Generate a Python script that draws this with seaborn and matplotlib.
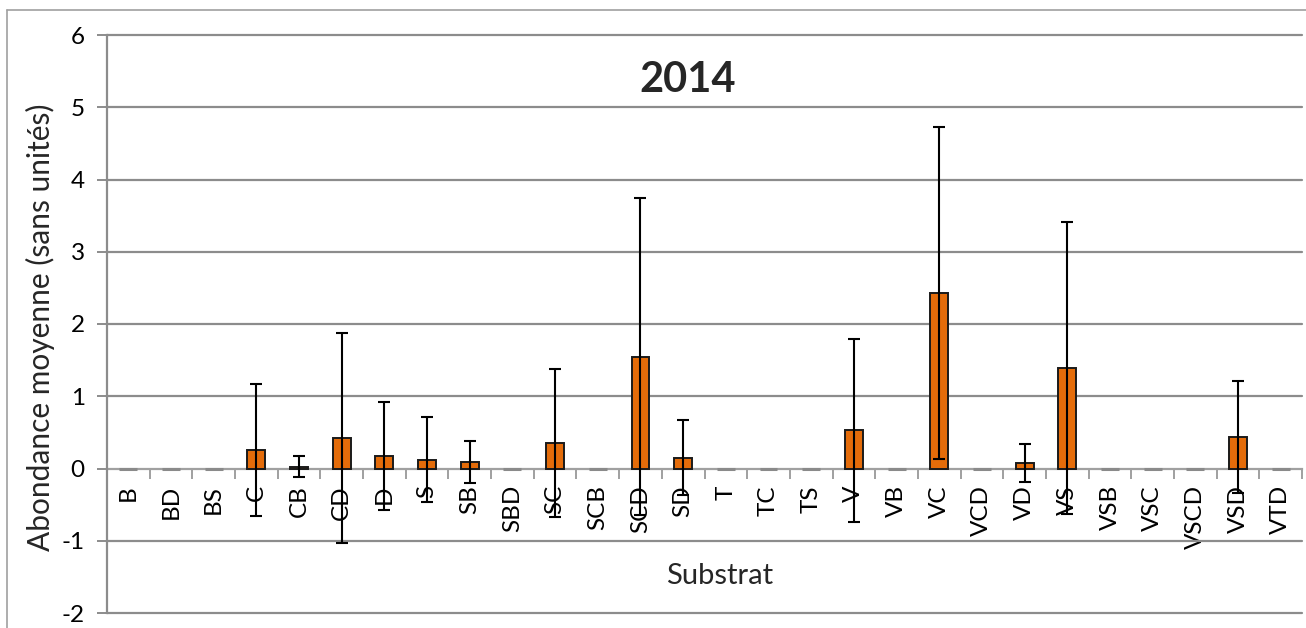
import matplotlib
matplotlib.use("Agg")
import matplotlib.pyplot as plt
from matplotlib.lines import Line2D
import seaborn as sns
import numpy as np
import pandas as pd

# Mean abundance per substrate type, with standard deviation
substrats = ["B", "BD", "BS", "C", "CB", "CD", "D", "S", "SB", "SBD", "SC", "SCB",
             "SCD", "SD", "T", "TC", "TS", "V", "VB", "VC", "VCD", "VD", "VS",
             "VSB", "VSC", "VSCD", "VSD", "VTD"]
moyennes = [0, 0, 0, 0.255, 0.025, 0.42, 0.17, 0.12, 0.085, 0, 0.355, 0,
            1.55, 0.15, 0, 0, 0, 0.53, 0, 2.43, 0, 0.077, 1.39,
            0, 0, 0, 0.435, 0]
ecarts = [0, 0, 0, 0.915, 0.145, 1.45, 0.75, 0.59, 0.29, 0, 1.025, 0,
          2.2, 0.52, 0, 0, 0, 1.265, 0, 2.3, 0, 0.258, 2.02,
          0, 0, 0, 0.78, 0]
y_ticks = [-2, -1, 0, 1, 2, 3, 4, 5, 6]
titre = "2014"

df = pd.DataFrame({"Substrat": substrats, "Moyenne": moyennes, "Ecart": ecarts})

sns.set_theme(style="white")
plt.rcParams["font.family"] = ["Lato", "DejaVu Sans"]

W, H = 1306, 628
fig = plt.figure(figsize=(W / 100, H / 100), dpi=100)
ax = fig.add_axes([107 / W, 1 - 613 / H, (1302 - 107) / W, (613 - 35) / H])

grid_col = "#8c8c8c"
orange = "#E46C0A"

sns.barplot(data=df, x="Substrat", y="Moyenne", order=substrats, color=orange,
            width=0.42, saturation=1, edgecolor="#1a1a1a", linewidth=1.4,
            errorbar=None, ax=ax, zorder=3)

# zero-height bars appear as a short grey dash on the axis
for patch, m in zip(ax.patches, moyennes):
    if m == 0:
        patch.set_edgecolor("#8a8a8a")
        patch.set_linewidth(2.2)
        patch.set_zorder(4)

xs = np.arange(len(substrats))
mask = np.array(ecarts) > 0
ax.errorbar(xs[mask], np.array(moyennes)[mask], yerr=np.array(ecarts)[mask],
            fmt="none", ecolor="black", elinewidth=1.5, capsize=4.3,
            capthick=1.5, zorder=5)

ax.set_ylim(-2, 6)
ax.set_xlim(-0.5, len(substrats) - 0.5)
ax.set_yticks(y_ticks)
ax.set_yticklabels([str(t) for t in y_ticks], fontsize=17.5)
for t in y_ticks:
    if t != 0:
        ax.axhline(t, color=grid_col, lw=1.6, zorder=1, clip_on=False)

for s in ["top", "right"]:
    ax.spines[s].set_visible(False)
ax.spines["left"].set_color(grid_col)
ax.spines["left"].set_linewidth(1.6)
ax.spines["bottom"].set_position(("data", 0))
ax.spines["bottom"].set_color("#a0a0a0")
ax.spines["bottom"].set_linewidth(1.6)
ax.spines["bottom"].set_zorder(2)

ax.tick_params(axis="y", direction="out", length=7, width=1.4, color=grid_col,
               pad=9, left=True, labelcolor="black")
ax.set_xticks(xs)
ax.set_xticklabels(substrats, rotation=90, fontsize=17.5, va="top", ha="center")
ax.tick_params(axis="x", which="major", length=0, pad=12, labelcolor="black")
ax.set_xticks(np.arange(len(substrats) + 1) - 0.5, minor=True)
ax.tick_params(axis="x", which="minor", direction="out", length=7, width=1.4,
               color="#a0a0a0", bottom=True)

ax.set_xlabel("")
ax.set_ylabel("")
fig.text(40 / W, 1 - 327 / H, "Abondance moyenne (sans unités)", rotation=90,
         ha="center", va="center", fontsize=21.5)
fig.text(720 / W, 1 - 576 / H, "Substrat", ha="center", va="center", fontsize=21)
fig.text(688 / W, 1 - 80 / H, titre, ha="center", va="center", fontsize=30,
         fontweight="bold")

# outer chart frame
fig.add_artist(Line2D([7 / W, 7 / W], [0, 1 - 10 / H], color="#a0a0a0", lw=1.2,
                      transform=fig.transFigure))
fig.add_artist(Line2D([7 / W, 1], [1 - 10 / H, 1 - 10 / H], color="#a0a0a0", lw=1.2,
                      transform=fig.transFigure))

fig.savefig("out.png", dpi=100, facecolor="white")
